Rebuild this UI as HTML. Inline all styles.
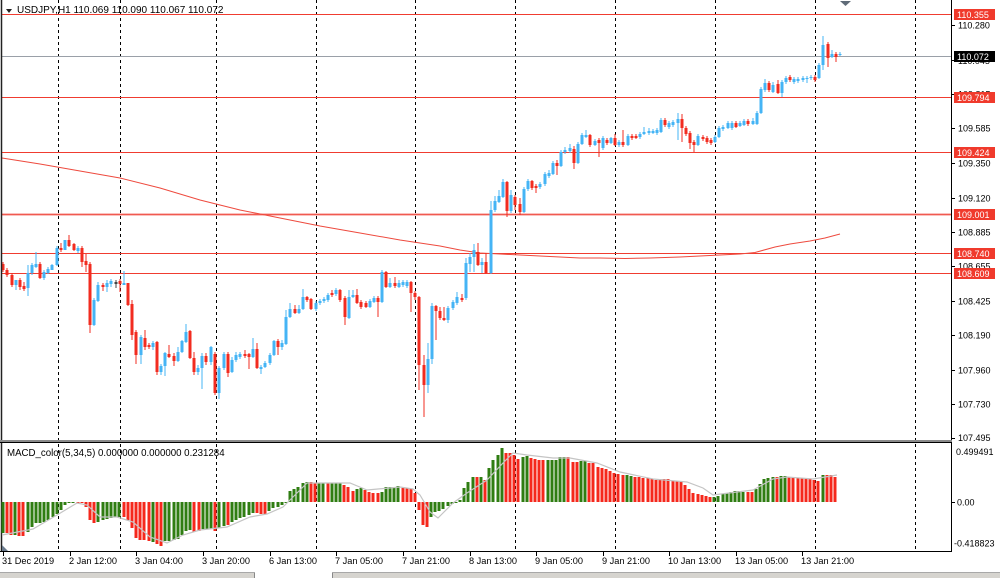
<!DOCTYPE html>
<html><head><meta charset="utf-8"><style>
html,body{margin:0;padding:0;background:#fff;}
svg{display:block;font-family:"Liberation Sans",sans-serif;}
</style></head><body>
<svg width="1000" height="578" viewBox="0 0 1000 578" xmlns="http://www.w3.org/2000/svg">
<rect x="0" y="0" width="1000" height="578" fill="#fff"/>
<!-- dashed day separators -->
<g stroke="#000" stroke-width="1.2" stroke-dasharray="3,3" shape-rendering="crispEdges">
<path d="M58.5 0V551M120.5 0V551M216.5 0V551M316.5 0V551M415.5 0V551M515.5 0V551M615.5 0V551M715.5 0V551M815.5 0V551M915.5 0V551"/>
</g>
<!-- horizontal lines -->
<g stroke="#f03c30" stroke-width="1" shape-rendering="crispEdges">
<path d="M2 14.5H951M2 97.5H951M2 152.5H951M2 253.5H951M2 273.5H951"/>
</g>
<path d="M2 214.5H951" stroke="#f05a50" stroke-width="1.8"/>
<path d="M2 56.5H951" stroke="#9aa0a8" stroke-width="1" shape-rendering="crispEdges"/>
<!-- moving average -->
<polyline fill="none" stroke="#ee4a3e" stroke-width="1" points="2,158 40,164 80,171 120,178 160,188 200,200 240,210 280,218 320,226 360,233 400,240 420,243 440,246 460,250 480,253 500,254 520,255 540,256 560,257 580,258 600,258 625,258.5 650,258 680,257 700,256 720,255 740,254 755,252.5 775,247 790,244 810,241 825,238 840,234"/>
<!-- candle wicks -->
<path stroke="#45b4f5" stroke-width="1" fill="none" shape-rendering="crispEdges" d="M16 280V290M28 265V296M32 263V275M36 252V268M44 270V280M48 267V274M52 264V270M57 246V266M65 240V250M78 246V253M94 298V326M98 282V302M107 280V292M111 279V287M124 271V285M141 335V364M153 341V350M161 364V375M165 352V376M178 347V362M182 340V353M186 324V343M198 365V375M202 353V389M211 346V365M219 366V399M224 352V370M232 357V373M236 352V362M240 352V359M253 338V358M261 365V374M265 361V368M270 353V365M274 340V356M282 340V350M286 310V345M290 303V318M299 305V314M303 289V310M316 301V311M320 299V305M324 297V303M328 293V302M336 288V296M349 290V319M353 290V298M370 299V308M374 296V303M382 270V303M390 278V288M399 280V288M403 280V287M407 280V288M428 343V393M432 303V364M448 306V323M453 300V310M457 292V305M466 258V300M470 253V272M474 244V272M482 258V273M491 201V274M495 196V212M499 190V203M503 179V198M511 190V213M524 187V213M528 179V191M540 182V189M545 172V186M549 170V178M553 161V175M561 150V167M565 147V154M570 144V153M578 142V164M582 133V145M586 130V138M595 139V146M603 136V150M611 137V144M619 140V147M628 134V146M640 132V139M644 127V135M649 128V135M653 129V134M657 128V135M661 118V133M669 121V129M673 120V127M678 113V140M698 134V146M715 135V143M719 126V138M723 125V131M728 121V129M732 121V130M740 121V127M744 119V126M753 118V125M757 111V125M761 87V114M765 79V92M773 82V93M782 80V97M786 76V84M794 77V84M798 77V83M803 76V82M807 76V83M811 75V80M819 63V79M823 36V70M832 50V58M840 52V56"/>
<path stroke="#f22c20" stroke-width="1" fill="none" shape-rendering="crispEdges" d="M3 262V272M7 268V277M12 273V287M20 278V290M24 282V291M40 262V279M61 243V252M69 235V247M74 243V251M82 246V267M86 254V272M90 262V333M103 283V291M120 279V292M128 283V306M132 300V340M136 330V364M145 330V350M149 343V349M157 341V375M169 345V358M174 353V366M190 330V359M194 352V375M206 353V365M215 352V395M228 352V377M245 350V358M249 353V369M257 343V369M278 339V355M295 305V314M307 296V302M311 298V310M332 290V297M340 289V302M345 296V325M357 289V304M361 300V309M366 301V308M378 296V317M386 271V288M395 277V288M411 281V312M415 291V300M419 296V390M424 355V417M436 305V340M440 307V320M444 307V321M462 294V302M478 243V266M486 253V274M507 181V217M515 195V210M520 198V215M532 180V190M536 184V193M557 160V175M574 146V169M590 134V147M599 138V157M607 138V145M615 134V146M623 130V147M632 134V140M636 134V139M665 118V127M682 114V142M686 126V136M690 131V149M694 140V152M703 135V141M707 136V144M711 138V145M736 121V128M748 119V126M769 81V92M778 80V94M790 75V82M815 75V82M828 42V67M836 52V62"/>
<path stroke="#444" stroke-width="1" d="M116 280V288"/>
<!-- candle bodies -->
<path stroke="#45b4f5" stroke-width="3" fill="none" shape-rendering="crispEdges" d="M16 280V285M28 273V288M32 265V273M36 264V267M44 272V278M48 269V273M52 265V270M57 248V265M65 240V250M78 248V251M94 300V325M98 285V301M107 283V287M111 281V284M124 283V285M141 337V355M153 343V347M161 366V372M165 353V366M178 352V361M182 341V352M186 332V342M198 368V372M202 356V368M211 347V362M219 368V393M224 354V368M232 360V372M236 355V360M240 354V357M253 349V357M261 367V369M265 363V367M270 355V363M274 341V355M282 343V347M286 317V344M290 309V317M299 309V313M303 297V309M316 303V309M320 301V303M324 299V301M328 295V300M336 290V294M349 297V318M353 295V297M370 301V307M374 298V302M382 272V302M390 283V287M399 283V287M403 282V285M407 282V286M428 359V385M432 306V359M448 308V320M453 302V308M457 297V303M466 263V298M470 257V264M474 250V257M482 262V265M491 210V273M495 201V210M499 196V202M503 182V197M511 195V211M524 189V212M528 181V189M540 184V187M545 174V184M549 173V176M553 163V174M561 152V166M565 150V152M570 148V151M578 144V163M582 135V144M586 135V137M595 141V145M603 138V148M611 138V143M619 142V145M628 136V145M640 134V137M644 132V134M649 131V133M653 131V133M657 130V133M661 120V132M669 123V127M673 122V125M678 119V123M698 136V145M715 137V142M719 128V137M723 127V129M728 123V128M732 123V128M740 123V126M744 121V125M753 121V124M757 113V124M761 89V113M765 83V90M773 85V92M782 82V93M786 78V82M794 79V82M798 79V81M803 78V80M807 78V79M811 77V78M819 65V78M823 45V65M832 54V57M840 54V55"/>
<path stroke="#f22c20" stroke-width="3" fill="none" shape-rendering="crispEdges" d="M3 264V270M7 270V275M12 275V285M20 280V287M24 286V289M40 264V278M61 248V250M69 240V246M74 244V250M82 248V262M86 261V265M90 264V325M103 285V287M120 281V284M128 283V305M132 304V335M136 332V355M145 338V347M149 345V347M157 342V372M169 354V357M174 356V361M190 331V358M194 358V372M206 356V362M215 354V393M228 354V373M245 354V356M249 354V357M257 349V368M278 341V347M295 309V313M307 297V300M311 299V309M332 293V295M340 290V300M345 298V317M357 295V303M361 302V307M366 303V307M378 298V302M386 272V287M395 283V286M411 282V293M415 293V297M419 297V365M424 365V385M436 306V311M440 311V318M444 318V320M462 298V300M478 252V265M486 262V273M507 182V211M515 197V205M520 204V212M532 181V188M536 186V188M557 163V166M574 149V163M590 135V145M599 140V143M607 140V143M615 138V145M623 142V145M632 136V138M636 136V138M665 120V125M682 119V128M686 128V134M690 133V143M694 142V145M703 137V139M707 138V142M711 140V143M736 123V127M748 121V124M769 83V90M778 84V93M790 77V80M815 77V80M828 44V58M836 54V57"/>
<path stroke="#444" stroke-width="3" d="M116 282V284"/>
<!-- header -->
<path d="M6 9L12 9L9 13Z" fill="#222"/>
<text x="17" y="13" font-size="10" fill="#000">USDJPY,H1  110.069 110.090 110.067 110.072</text>
<!-- top triangle -->
<path d="M840 1L851 1L845.5 6Z" fill="#5f6b78"/>
<!-- frame -->
<path d="M1.5 0V551" stroke="#222" stroke-width="1.5"/>
<path d="M951.5 0V551" stroke="#000" stroke-width="1" shape-rendering="crispEdges"/>
<rect x="0" y="440" width="952" height="2" fill="#8a8a8a"/>
<path d="M0 442.5H952" stroke="#000" stroke-width="1" shape-rendering="crispEdges"/>
<path d="M0 551.5H952" stroke="#000" stroke-width="1" shape-rendering="crispEdges"/>
<!-- right axis ticks & labels -->
<g stroke="#000" stroke-width="1" shape-rendering="crispEdges">
<path d="M951 25.5H955M951 60.5H955M951 94.5H955M951 128.5H955M951 163.5H955M951 198.5H955M951 232.5H955M951 266.5H955M951 301.5H955M951 335.5H955M951 370.5H955M951 404.5H955M951 438.5H955M951 502.5H955"/>
</g>
<g font-size="9" fill="#000">
<text x="958" y="28.5">110.280</text>
<text x="958" y="64">110.045</text>
<text x="958" y="97.5">109.815</text>
<text x="958" y="131.5">109.585</text>
<text x="958" y="166.5">109.350</text>
<text x="958" y="201.5">109.120</text>
<text x="958" y="235.5">108.885</text>
<text x="958" y="269.5">108.655</text>
<text x="958" y="304.5">108.425</text>
<text x="958" y="338.5">108.190</text>
<text x="958" y="373.5">107.960</text>
<text x="958" y="407.5">107.730</text>
<text x="958" y="441">107.495</text>
<text x="956" y="455">0.499491</text>
<text x="957" y="505.5">0.00</text>
<text x="954" y="546.5">-0.418823</text>
</g>
<!-- price label boxes -->
<g>
<rect x="954" y="9" width="41" height="11" fill="#f03a2c"/>
<rect x="954" y="51" width="41" height="11" fill="#000"/>
<rect x="954" y="92" width="41" height="11" fill="#f03a2c"/>
<rect x="954" y="147" width="41" height="11" fill="#f03a2c"/>
<rect x="954" y="209" width="41" height="11" fill="#f03a2c"/>
<rect x="954" y="248" width="41" height="11" fill="#f03a2c"/>
<rect x="954" y="268" width="41" height="11" fill="#f03a2c"/>
</g>
<g font-size="9" fill="#fff">
<text x="957" y="18">110.355</text>
<text x="957" y="60">110.072</text>
<text x="957" y="101">109.794</text>
<text x="957" y="156">109.424</text>
<text x="957" y="218">109.001</text>
<text x="957" y="257">108.740</text>
<text x="957" y="277">108.609</text>
</g>
<!-- MACD histogram -->
<path stroke="#2f7d12" stroke-width="3" fill="none" shape-rendering="crispEdges" d="M3 502V533M15 502V535M28 502V532M32 502V527M36 502V523M40 502V523M44 502V522M48 502V520M53 502V517M57 502V514M61 502V510M65 502V505M69 502V503M73 502V503M98 502V522M103 502V520M107 502V519M111 502V518M115 502V517M119 502V517M153 502V542M165 502V541M169 502V541M174 502V540M178 502V539M182 502V535M186 502V531M190 502V530M203 502V529M207 502V529M211 502V529M219 502V528M224 502V526M232 502V522M236 502V520M240 502V518M244 502V517M249 502V515M253 502V513M269 502V511M273 502V508M278 502V507M282 502V505M286 502V503M290 491V502M294 489V502M298 487V502M303 483V502M307 482V502M319 483V502M323 483V502M332 483V502M336 483V502M340 483V502M357 489V502M361 488V502M382 492V502M386 487V502M390 487V502M394 487V502M398 486V502M431 502V517M435 502V512M439 502V511M443 502V509M448 502V506M452 502V504M456 502V503M460 500V502M464 488V502M468 482V502M473 477V502M481 477V502M489 468V502M493 460V502M498 455V502M502 448V502M523 457V502M527 456V502M548 460V502M552 460V502M556 460V502M560 457V502M564 457V502M581 461V502M585 461V502M627 475V502M631 476V502M714 497V502M718 496V502M723 494V502M727 493V502M731 492V502M735 491V502M739 491V502M743 492V502M756 489V502M760 484V502M764 479V502M768 478V502M773 477V502M781 476V502M785 476V502M823 475V502"/>
<path stroke="#f5281c" stroke-width="3" fill="none" shape-rendering="crispEdges" d="M7 502V533M11 502V535M19 502V536M23 502V536M78 502V503M82 502V503M86 502V507M90 502V520M94 502V523M124 502V517M128 502V520M132 502V528M136 502V538M140 502V540M144 502V540M149 502V541M157 502V544M161 502V546M194 502V532M199 502V531M215 502V531M228 502V525M257 502V513M261 502V514M265 502V514M311 482V502M315 483V502M328 483V502M344 485V502M348 487V502M353 491V502M365 490V502M369 492V502M373 493V502M378 493V502M403 488V502M407 488V502M411 489V502M415 493V502M419 502V510M423 502V525M427 502V527M477 477V502M485 480V502M506 453V502M510 453V502M514 455V502M518 459V502M531 458V502M535 459V502M539 460V502M543 460V502M568 457V502M573 462V502M577 462V502M589 463V502M593 463V502M598 467V502M602 468V502M606 469V502M610 471V502M614 473V502M618 474V502M623 475V502M635 477V502M639 477V502M643 478V502M648 478V502M652 479V502M656 480V502M660 479V502M664 479V502M668 479V502M673 481V502M677 481V502M681 482V502M685 485V502M689 489V502M693 493V502M698 494V502M702 495V502M706 496V502M710 497V502M748 492V502M752 492V502M777 477V502M789 477V502M793 477V502M798 478V502M802 478V502M806 479V502M810 479V502M814 480V502M818 481V502M827 475V502M831 475V502M835 477V502"/>
<!-- MACD signal -->
<polyline fill="none" stroke="#c4c4c4" stroke-width="1.2" points="2,535 33,529 57,515 77,503 87,505 100,517 117,517 133,522 150,537 167,543 183,535 200,530 227,527 250,517 267,514 283,507 293,497 307,483 333,483 350,483 367,490 400,487 413,489 420,495 430,512 438,518 453,503 467,493 487,480 503,463 513,453 527,455 553,458 570,458 597,463 620,472 653,479 687,482 703,488 713,495 737,492 753,490 773,479 787,477 813,479 837,475"/>
<text x="7" y="456" font-size="9.7" fill="#000">MACD_color(5,34,5) 0.000000 0.000000 0.231284</text>
<path d="M2 545L8 551L2 551Z" fill="#6a7a8c"/>
<!-- time axis -->
<g stroke="#000" stroke-width="1" shape-rendering="crispEdges">
<path d="M3.5 551V556M70.5 551V556M136.5 551V556M203.5 551V556M270.5 551V556M336.5 551V556M403.5 551V556M470.5 551V556M536.5 551V556M603.5 551V556M669.5 551V556M736.5 551V556M802.5 551V556"/>
</g>
<g font-size="9.2" fill="#000">
<text x="2" y="564">31 Dec 2019</text>
<text x="69" y="564">2 Jan 12:00</text>
<text x="135" y="564">3 Jan 04:00</text>
<text x="202" y="564">3 Jan 20:00</text>
<text x="269" y="564">6 Jan 13:00</text>
<text x="335" y="564">7 Jan 05:00</text>
<text x="402" y="564">7 Jan 21:00</text>
<text x="469" y="564">8 Jan 13:00</text>
<text x="535" y="564">9 Jan 05:00</text>
<text x="602" y="564">9 Jan 21:00</text>
<text x="668" y="564">10 Jan 13:00</text>
<text x="735" y="564">13 Jan 05:00</text>
<text x="801" y="564">13 Jan 21:00</text>
</g>
<!-- bottom tab bar -->
<rect x="0" y="573" width="1000" height="5" fill="#d6d4cf"/>
<path d="M0 572.5H1000" stroke="#a8a8a8" stroke-width="1"/>
<rect x="255" y="572" width="77" height="6" fill="#fff"/>
<path d="M254.5 573V578M332.5 573V578" stroke="#888" stroke-width="1"/>
</svg>
</body></html>
